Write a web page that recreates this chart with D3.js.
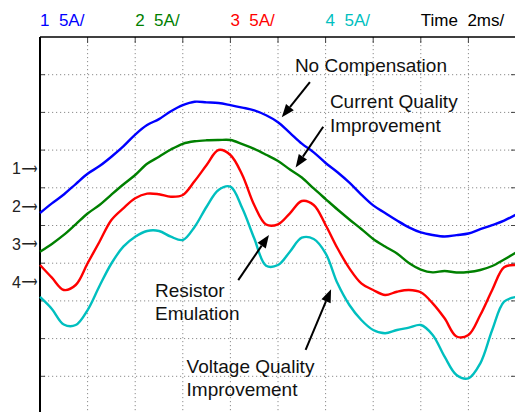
<!DOCTYPE html>
<html lang="en">
<head>
<meta charset="UTF-8">
<title>Scope traces</title>
<script src="https://d3js.org/d3.v7.min.js"></script>
<style>
  body { margin: 0; background: #fff; }
  text { font-family: "Liberation Sans", Arial, sans-serif; }
</style>
</head>
<body>
<script>

// screen size and scope frame (10 x 10 divisions)
var w = 515, h = 412;
var x0 = 40, x1 = 516, y0 = 37, y1 = 414;

// time axis, ms (2 ms/div), one sample every 0.5 ms
var timeMs = d3.range(0, 20.001, 0.5);

// currents in A (5 A/div), relative to each channel's ground marker
var ch1 = [-5.84, -4.56, -3.39, -2.00, -0.64, 0.38, 1.62, 2.99, 4.56, 5.82,
    6.61, 7.65, 8.46, 8.91, 8.83, 8.75, 8.47, 8.14, 7.77, 7.12,
    6.20, 4.79, 3.35, 2.20, 0.79, -0.44, -1.82, -3.40, -4.83, -5.84,
    -6.84, -7.75, -8.42, -8.76, -8.95, -8.77, -8.56, -7.99, -7.45, -6.85, -6.04];
var ch2 = [-5.98, -4.94, -3.75, -2.34, -0.91, 0.22, 1.60, 2.94, 4.20, 5.68,
    6.62, 7.58, 8.34, 8.67, 8.80, 8.84, 8.84, 8.30, 7.67, 6.89,
    6.05, 4.93, 3.87, 2.41, 1.01, -0.38, -1.70, -2.96, -4.29, -5.29,
    -6.21, -7.47, -8.34, -8.71, -8.53, -8.73, -8.67, -8.40, -7.87, -7.01, -6.08];
var ch3 = [-2.74, -4.42, -6.05, -5.39, -2.51, 0.35, 3.23, 4.78, 6.11, 6.72,
    6.64, 6.32, 6.55, 8.40, 10.52, 12.51, 11.85, 9.20, 5.22, 2.63,
    2.66, 4.12, 5.75, 5.22, 2.57, -0.52, -3.18, -5.17, -6.05, -6.72,
    -6.28, -6.05, -6.36, -7.82, -9.81, -12.22, -12.02, -9.37, -6.05, -3.04, -2.74];
var ch4 = [-1.98, -3.57, -5.63, -5.70, -3.71, -0.52, 2.46, 4.69, 6.01, 6.77,
    6.77, 6.01, 5.58, 7.34, 9.99, 12.21, 12.65, 9.78, 5.80, 2.17,
    2.26, 4.03, 5.88, 5.71, 3.81, -0.17, -3.04, -5.03, -6.36, -6.80,
    -6.36, -6.05, -5.70, -7.02, -9.90, -12.33, -12.77, -10.78, -6.36, -2.61, -1.98];

var channels = ["1", "2", "3", "4"];
var series = [ch1, ch2, ch3, ch4];
var colors = ["#0000ff", "#008000", "#ff0000", "#00bfbf"];
var offsets = [1.5, 0.5, -0.5, -1.5];   // ground marker, divisions from centre
var ampsPerDiv = 5;
var headerLabels = ["1  5A/", "2  5A/", "3  5A/", "4  5A/", "Time  2ms/"];
var headerTimes = [0, 4, 8, 12, 16];

// annotations: [ms, div] for text, arrows from tail to tip
var notes = [
    {lines: ["No Compensation"], at: [10.71, 4.08]},
    {lines: ["Current Quality", "Improvement"], at: [12.18, 3.11]},
    {lines: ["Resistor", "Emulation"], at: [4.83, -1.89]},
    {lines: ["Voltage Quality", "Improvement"], at: [6.16, -3.90]}
];
var arrows = [
    [[11.34, 3.80], [10.16, 2.87]],
    [[11.90, 2.62], [10.74, 1.54]],
    [[8.33, -1.45], [9.62, -0.25]],
    [[11.16, -3.30], [12.23, -1.69]]
];

var xScale = d3.scaleLinear().domain([0, 20]).range([x0, x1]);
var yDiv = d3.scaleLinear().domain([-5, 5]).range([y1, y0]);

var svg = d3.select("body").append("svg")
    .attr("width", w)
    .attr("height", h);

svg.append("rect").attr("width", w).attr("height", h).attr("fill", "#fff");

// dotted grid
var gridX = d3.range(1, 10).map(function(d) { return d * 2; });
var gridY = d3.range(-4, 5);

svg.selectAll("line.gx").data(gridX).enter().append("line")
    .attr("x1", function(d) { return xScale(d); })
    .attr("x2", function(d) { return xScale(d); })
    .attr("y1", y0).attr("y2", y1)
    .attr("stroke", "#8c8c8c").attr("stroke-width", 1)
    .attr("stroke-dasharray", "1.2,2.8");

svg.selectAll("line.gy").data(gridY).enter().append("line")
    .attr("y1", function(d) { return yDiv(d); })
    .attr("y2", function(d) { return yDiv(d); })
    .attr("x1", x0).attr("x2", x1)
    .attr("stroke", "#8c8c8c").attr("stroke-width", 1)
    .attr("stroke-dasharray", "1.2,2.8");

// short ticks on frame
svg.selectAll("line.tt").data(gridX).enter().append("line")
    .attr("x1", function(d) { return xScale(d); })
    .attr("x2", function(d) { return xScale(d); })
    .attr("y1", y0).attr("y2", y0 + 6)
    .attr("stroke", "#444").attr("stroke-width", 1);
svg.selectAll("line.tl").data(gridY).enter().append("line")
    .attr("y1", function(d) { return yDiv(d); })
    .attr("y2", function(d) { return yDiv(d); })
    .attr("x1", x0).attr("x2", x0 + 5)
    .attr("stroke", "#444").attr("stroke-width", 1);
svg.selectAll("line.tr").data(gridY).enter().append("line")
    .attr("y1", function(d) { return yDiv(d); })
    .attr("y2", function(d) { return yDiv(d); })
    .attr("x1", x1 - 5).attr("x2", x1)
    .attr("stroke", "#444").attr("stroke-width", 1);

// frame
svg.append("line").attr("x1", x0).attr("x2", x1).attr("y1", y0).attr("y2", y0)
    .attr("stroke", "#000").attr("stroke-width", 1.5);
svg.append("line").attr("x1", x0).attr("x2", x0).attr("y1", y0).attr("y2", y1)
    .attr("stroke", "#000").attr("stroke-width", 2);

// traces
var line = d3.line()
    .x(function(d) { return xScale(d[0]); })
    .y(function(d) { return yDiv(d[1]); })
    .curve(d3.curveCatmullRom.alpha(0.5));

series.forEach(function(s, i) {
    var pts = s.map(function(v, k) { return [timeMs[k], offsets[i] + v / ampsPerDiv]; });
    svg.append("path")
        .attr("d", line(pts))
        .attr("fill", "none")
        .attr("stroke", colors[i])
        .attr("stroke-width", 2.4)
        .attr("stroke-linejoin", "round");
});

// ground markers: number plus long arrow pointing at the frame
svg.selectAll("text.gnd").data(channels).enter().append("text")
    .attr("x", 21)
    .attr("y", function(d, i) { return yDiv(offsets[i]) + 5.5; })
    .attr("text-anchor", "end")
    .attr("font-size", "16px")
    .attr("fill", "#222")
    .text(function(d) { return d; });
svg.selectAll("text.garr").data(channels).enter().append("text")
    .attr("x", 21.5)
    .attr("y", function(d, i) { return yDiv(offsets[i]) + 5; })
    .attr("textLength", 16)
    .attr("lengthAdjust", "spacingAndGlyphs")
    .style("font-family", "'DejaVu Sans'")
    .style("font-size", "16px")
    .attr("fill", "#222")
    .text("\u27f6");

// header
svg.selectAll("text.hdr").data(headerLabels).enter().append("text")
    .attr("x", function(d, i) { return xScale(headerTimes[i]); })
    .attr("y", 25.5)
    .attr("font-size", "17px")
    .style("white-space", "pre")
    .attr("fill", function(d, i) { return i < 4 ? colors[i] : "#000"; })
    .text(function(d) { return d; });

// annotations
notes.forEach(function(n) {
    var t = svg.append("text")
        .attr("x", xScale(n.at[0]))
        .attr("y", yDiv(n.at[1]))
        .attr("font-size", "19px")
        .attr("fill", "#111");
    n.lines.forEach(function(s, j) {
        t.append("tspan")
            .attr("x", xScale(n.at[0]))
            .attr("dy", j == 0 ? 0 : 23.5)
            .text(s);
    });
});

arrows.forEach(function(a) {
    var tx = xScale(a[0][0]), ty = yDiv(a[0][1]);
    var px = xScale(a[1][0]), py = yDiv(a[1][1]);
    var ang = Math.atan2(py - ty, px - tx);
    var len = 13, half = 5;
    var bx = px - len * Math.cos(ang), by = py - len * Math.sin(ang);
    svg.append("line")
        .attr("x1", tx).attr("y1", ty).attr("x2", bx).attr("y2", by)
        .attr("stroke", "#000").attr("stroke-width", 2);
    svg.append("path")
        .attr("d", "M" + px + "," + py +
            "L" + (bx + half * Math.sin(ang)) + "," + (by - half * Math.cos(ang)) +
            "L" + (bx - half * Math.sin(ang)) + "," + (by + half * Math.cos(ang)) + "Z")
        .attr("fill", "#000");
});

</script>
</body>
</html>
